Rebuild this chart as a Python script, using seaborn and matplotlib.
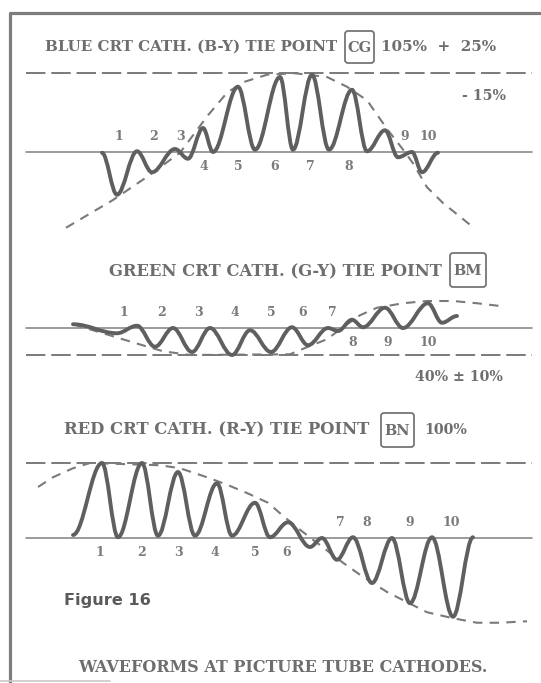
import matplotlib
matplotlib.use("Agg")
import matplotlib.pyplot as plt
import seaborn as sns
from matplotlib.path import Path
from matplotlib.patches import PathPatch, FancyBboxPatch

# waveform extrema: x position (px) and amplitude (% of 100% level)
BLUE_X = [102, 117, 137, 152, 175, 188, 203, 213, 238, 255, 280, 293, 312, 329, 352, 367, 385, 398, 412, 422, 438]
BLUE_AMP = [-1, -57, 1, -27, 4, -9, 32, 0, 87, 3, 100, 3, 103, 3, 83, 1, 29, -7, 0, -27, -1]
BLUE_ENV_X = [66, 113, 145, 180, 208, 227, 243, 267, 295, 327, 347, 367, 388, 402, 413, 427, 443, 470]
BLUE_ENV_AMP = [-101, -64, -35, -1, 49, 79, 93, 103, 105, 100, 87, 69, 29, 5, -15, -47, -68, -97]
BLUE_REF = 105

GREEN_X = [73, 117, 137, 155, 173, 192, 210, 232, 250, 271, 292, 308, 328, 338, 352, 363, 385, 403, 428, 442, 457]
GREEN_AMP = [5, -7, 3, -25, 0, -32, 0, -36, -3, -32, 1, -23, 0, -4, 11, 1, 27, 0, 33, 7, 16]
GREEN_ENV_X = [73, 108, 135, 163, 190, 290, 308, 327, 345, 360, 377, 403, 427, 453, 477, 502]
GREEN_ENV_AMP = [5, -9, -20, -31, -36, -35, -25, -15, 3, 17, 27, 33, 36, 36, 33, 29]
GREEN_REF = -36

RED_X = [73, 102, 118, 142, 158, 178, 195, 217, 232, 255, 270, 288, 310, 322, 337, 353, 372, 392, 410, 432, 453, 473]
RED_AMP = [4, 100, 1, 100, 3, 88, 3, 73, 3, 47, 1, 21, -12, 0, -29, 1, -60, 0, -87, 1, -105, 1]
RED_ENV_X = [38, 53, 73, 90, 160, 180, 207, 227, 247, 268, 280, 300, 343, 360, 387, 427, 453, 477, 500, 527]
RED_ENV_AMP = [68, 81, 93, 100, 97, 93, 81, 71, 60, 47, 33, 11, -33, -49, -72, -99, -107, -113, -113, -111]
RED_REF = 100

BAR_LABELS = ["1", "2", "3", "4", "5", "6", "7", "8", "9", "10"]
BLUE_LABEL_X = [119, 153, 180, 204, 238, 275, 310, 349, 405, 428]
BLUE_LABEL_UP = [1, 1, 1, 0, 0, 0, 0, 0, 1, 1]
GREEN_LABEL_X = [124, 162, 198, 235, 271, 303, 332, 353, 388, 428]
GREEN_LABEL_UP = [1, 1, 1, 1, 1, 1, 1, 0, 0, 0]
RED_LABEL_X = [100, 142, 178, 215, 255, 287, 340, 367, 410, 451]
RED_LABEL_UP = [0, 0, 0, 0, 0, 0, 1, 1, 1, 1]

W, H = 541, 683
PX_PER_PCT = 0.75
LINE_START, LINE_END = 26, 532

INK = "#5f5f5f"
TEXT = "#6e6e6e"
RULE = "#7a7a7a"

sns.set_theme(style="white")
plt.rcParams["font.family"] = ["DejaVu Serif", "DejaVu Sans"]

fig = plt.figure(figsize=(W / 100, H / 100), dpi=100)
fig.patch.set_facecolor("white")

# overlay in pixel coordinates for frame and lettering
ov = fig.add_axes([0, 0, 1, 1])
ov.set_xlim(0, W)
ov.set_ylim(H, 0)
ov.axis("off")

ov.plot([10, 10, W], [H, 13, 13], color="#7d7d7d", lw=2.3, solid_joinstyle="round")
ov.plot([0, 110], [681, 681], color="#c8c8c8", lw=1.2)


def panel(baseline_px):
    ax = fig.add_axes([0, 0, 1, 1])
    ax.set_xlim(0, W)
    ax.set_ylim(-(H - baseline_px) / PX_PER_PCT, baseline_px / PX_PER_PCT)
    ax.axis("off")
    ax.patch.set_alpha(0)
    return ax


def wave(ax, xs, amps, k=0.36):
    verts = [(xs[0], amps[0])]
    codes = [Path.MOVETO]
    for i in range(1, len(xs)):
        dx = xs[i] - xs[i - 1]
        verts += [(xs[i - 1] + k * dx, amps[i - 1]), (xs[i] - k * dx, amps[i]), (xs[i], amps[i])]
        codes += [Path.CURVE4] * 3
    ax.add_patch(PathPatch(Path(verts, codes), fill=False, ec=INK, lw=2.8,
                           capstyle="round", joinstyle="round", zorder=4))


def draw_panel(baseline_px, xs, amps, env_x, env_amp, ref, label_x, label_up):
    ax = panel(baseline_px)
    sns.lineplot(x=[LINE_START, LINE_END], y=[0, 0], ax=ax, color="#8a8a8a", lw=1.2)
    sns.lineplot(x=[LINE_START, LINE_END], y=[ref, ref], ax=ax, color=RULE, lw=1.4,
                 linestyle=(0, (10, 3)))
    sns.lineplot(x=env_x, y=env_amp, ax=ax, sort=False, estimator=None, color=RULE,
                 lw=1.5, linestyle=(0, (4.5, 3.5)))
    wave(ax, xs, amps)
    for lab, lx, up in zip(BAR_LABELS, label_x, label_up):
        ax.text(lx, 20 if up else -20, lab, ha="center", va="center", fontsize=9,
                fontweight="bold", color="#7a7a7a")
    return ax


draw_panel(152, BLUE_X, BLUE_AMP, BLUE_ENV_X, BLUE_ENV_AMP, BLUE_REF, BLUE_LABEL_X, BLUE_LABEL_UP)
draw_panel(328, GREEN_X, GREEN_AMP, GREEN_ENV_X, GREEN_ENV_AMP, GREEN_REF, GREEN_LABEL_X, GREEN_LABEL_UP)
draw_panel(538, RED_X, RED_AMP, RED_ENV_X, RED_ENV_AMP, RED_REF, RED_LABEL_X, RED_LABEL_UP)

title_kw = dict(va="center", fontweight="bold", color=TEXT)


def tie_box(x0, x1, y0, y1, label):
    ov.add_patch(FancyBboxPatch((x0 + 3, y0 + 3), x1 - x0 - 6, y1 - y0 - 6,
                                boxstyle="round,pad=3", fc="white", ec="#767676", lw=1.3))
    ov.text((x0 + x1) / 2, (y0 + y1) / 2 + 1, label, ha="center", fontsize=10.5, **title_kw)


ov.text(45, 47, "BLUE CRT CATH. (B-Y) TIE POINT", ha="left", fontsize=10.9, **title_kw)
tie_box(345, 374, 31, 63, "CG")
ov.text(381, 47, "105%  +  25%", ha="left", fontsize=10.9, **title_kw)
ov.text(462, 96, "- 15%", ha="left", fontsize=10.2, **title_kw)

ov.text(109, 272, "GREEN CRT CATH. (G-Y) TIE POINT", ha="left", fontsize=11.8, **title_kw)
tie_box(450, 486, 253, 287, "BM")
ov.text(415, 377, "40% ± 10%", ha="left", fontsize=10.2, **title_kw)

ov.text(64, 430, "RED CRT CATH. (R-Y) TIE POINT", ha="left", fontsize=11.8, **title_kw)
tie_box(381, 414, 413, 447, "BN")
ov.text(424, 430, "100%", ha="left", fontsize=10.2, **title_kw)

ov.text(64, 601, "Figure 16", ha="left", va="center", fontsize=11.6, fontweight="bold",
        family="DejaVu Sans", color="#5a5a5a")
ov.text(283, 667, "WAVEFORMS AT PICTURE TUBE CATHODES.", ha="center", va="center",
        fontsize=11.5, fontweight="bold", color=TEXT)

fig.savefig("out.png", dpi=100, facecolor="white")
